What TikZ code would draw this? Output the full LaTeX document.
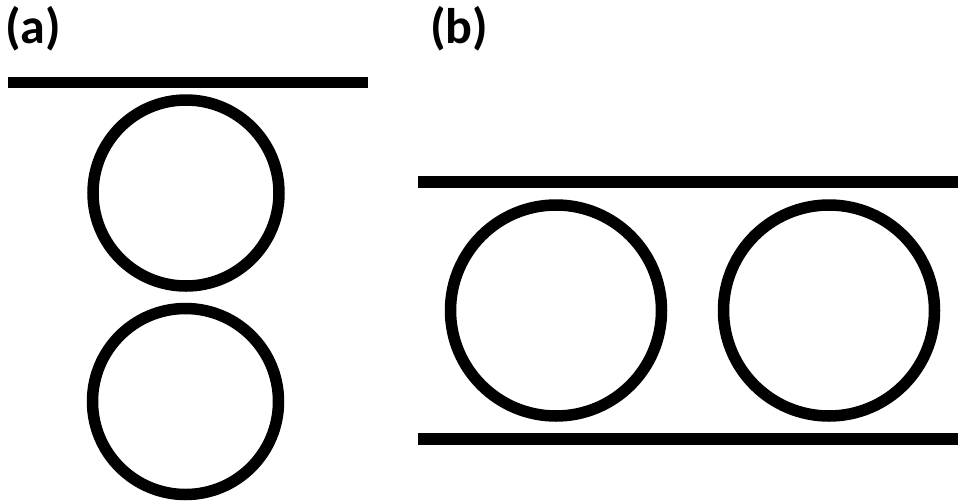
\documentclass[tikz,border=0pt]{standalone}
\usepackage{fontspec}
\setmainfont{Carlito}
\usepackage{tikz}

\begin{document}
\begin{tikzpicture}[
  x=1pt,y=-1pt,
  panel/.style={font=\fontsize{50}{50}\selectfont\bfseries,anchor=base west,inner sep=0pt},
  wall/.style={line width=11.5pt,line cap=butt},
  ball/.style={draw,circle,line width=11.5pt,inner sep=0pt},
]
  \useasboundingbox (0,0) rectangle (958,501);
  % (a) stacked
  \node[panel] (la) at (5,43) {(a)};
  \draw[wall] (8,82.5) -- (368,82.5);
  \node[ball,minimum size=186pt] (a1) at (186,193) {};
  \node[ball,minimum size=186pt] (a2) at (185.5,401.5) {};
  % (b) side by side
  \node[panel] (lb) at (430,43) {(b)};
  \draw[wall] (418,182) -- (958,182);
  \draw[wall] (418,439) -- (958,439);
  \node[ball,minimum size=211pt] (b1) at (556,310.5) {};
  \node[ball,minimum size=211pt] (b2) at (829,310.5) {};
\end{tikzpicture}
\end{document}
